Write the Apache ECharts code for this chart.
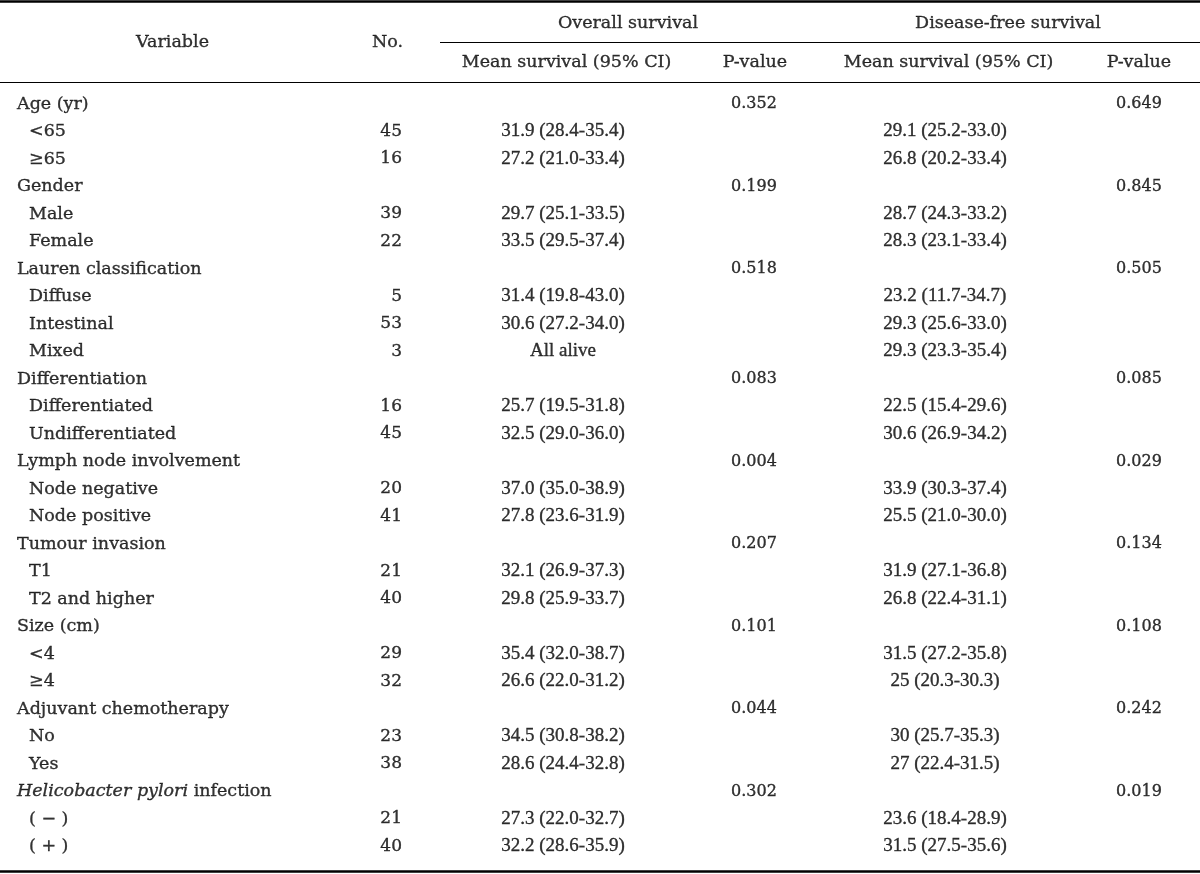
<!DOCTYPE html>
<html><head><meta charset="utf-8">
<script src="https://cdn.jsdelivr.net/npm/echarts@6/dist/echarts.min.js"></script>
<style>html,body{margin:0;padding:0;background:#fff}#c{width:1200px;height:874px}</style>
</head><body><div id="c"></div>
<script>
// ---- table content ----
const stubHeaders = ['Variable', 'No.'];
const groupHeaders = ['Overall survival', 'Disease-free survival'];
const subHeaders = ['Mean survival (95% CI)', 'P-value', 'Mean survival (95% CI)', 'P-value'];
const rowLabels = ['Age (yr)','<65','≥65','Gender','Male','Female','Lauren classification','Diffuse','Intestinal','Mixed','Differentiation','Differentiated','Undifferentiated','Lymph node involvement','Node negative','Node positive','Tumour invasion','T1','T2 and higher','Size (cm)','<4','≥4','Adjuvant chemotherapy','No','Yes','Helicobacter pylori infection','( − )','( + )'];
const rowLevel = [0,1,1,0,1,1,0,1,1,1,0,1,1,0,1,1,0,1,1,0,1,1,0,1,1,0,1,1];
const patientNo = ['','45','16','','39','22','','5','53','3','','16','45','','20','41','','21','40','','29','32','','23','38','','21','40'];
const osMean = ['','31.9 (28.4-35.4)','27.2 (21.0-33.4)','','29.7 (25.1-33.5)','33.5 (29.5-37.4)','','31.4 (19.8-43.0)','30.6 (27.2-34.0)','All alive','','25.7 (19.5-31.8)','32.5 (29.0-36.0)','','37.0 (35.0-38.9)','27.8 (23.6-31.9)','','32.1 (26.9-37.3)','29.8 (25.9-33.7)','','35.4 (32.0-38.7)','26.6 (22.0-31.2)','','34.5 (30.8-38.2)','28.6 (24.4-32.8)','','27.3 (22.0-32.7)','32.2 (28.6-35.9)'];
const osP = ['0.352','','','0.199','','','0.518','','','','0.083','','','0.004','','','0.207','','','0.101','','','0.044','','','0.302','',''];
const dfsMean = ['','29.1 (25.2-33.0)','26.8 (20.2-33.4)','','28.7 (24.3-33.2)','28.3 (23.1-33.4)','','23.2 (11.7-34.7)','29.3 (25.6-33.0)','29.3 (23.3-35.4)','','22.5 (15.4-29.6)','30.6 (26.9-34.2)','','33.9 (30.3-37.4)','25.5 (21.0-30.0)','','31.9 (27.1-36.8)','26.8 (22.4-31.1)','','31.5 (27.2-35.8)','25 (20.3-30.3)','','30 (25.7-35.3)','27 (22.4-31.5)','','23.6 (18.4-28.9)','31.5 (27.5-35.6)'];
const dfsP = ['0.649','','','0.845','','','0.505','','','','0.085','','','0.029','','','0.134','','','0.108','','','0.242','','','0.019','',''];
const italicPart = 'Helicobacter pylori';

// ---- layout (x positions on a 0..1200 value axis) ----
const layout = {
  varX: 17, indent: 12,
  noX: 402, osMeanX: 563, osPX: 754, dfsMeanX: 945, dfsPX: 1139,
  hVarX: 172.5, hNoX: 387.5, hOsX: 628, hDfsX: 1008,
  hOsMeanX: 566.5, hOsPX: 755, hDfsMeanX: 948.5, hDfsPX: 1139,
  groupRuleFrom: 440, groupRuleTo: 1200
};
const TEXT = '#000';
const SERIF = 'DejaVu Serif';

function textSeries(xAxisIndex, yAxisIndex, items, labelOpt, extra) {
  return Object.assign({
    type: 'scatter', xAxisIndex, yAxisIndex, symbolSize: 1, silent: true, animation: false,
    itemStyle: { color: 'rgba(255,255,255,0)' },
    data: items.map(d => ({ value: [d.x, d.y], t: d.t })),
    label: Object.assign({
      show: true, position: 'inside', verticalAlign: 'middle', color: TEXT,
      textBorderWidth: 0.35, textBorderColor: '#000',
      fontFamily: SERIF, fontSize: 17.5,
      formatter: p => p.data.t
    }, labelOpt)
  }, extra || {});
}
function colItems(arr, x) {
  const out = [];
  arr.forEach((v, i) => { if (v !== '' && v != null) out.push({ x, y: i, t: String(v) }); });
  return out;
}

const labelItems = rowLabels.map((s, i) => ({
  x: layout.varX + rowLevel[i] * layout.indent, y: i,
  t: s.startsWith(italicPart) ? '{i|' + italicPart + '}' + s.slice(italicPart.length) : s
}));

const option = {
  backgroundColor: '#fff',
  animation: false,
  grid: [
    { left: 0, right: 0, top: 1.5, height: 81 },
    { left: 0, right: 0, top: 90.25, height: 781 }
  ],
  xAxis: [
    { gridIndex: 0, type: 'value', min: 0, max: 1200, position: 'top',
      axisLine: { show: true, onZero: false, lineStyle: { color: '#000', width: 2.5 } },
      axisTick: { show: false }, axisLabel: { show: false }, splitLine: { show: false } },
    { gridIndex: 0, type: 'value', min: 0, max: 1200, position: 'bottom',
      axisLine: { show: true, onZero: false, lineStyle: { color: '#000', width: 1.2 } },
      axisTick: { show: false }, axisLabel: { show: false }, splitLine: { show: false } },
    { gridIndex: 1, type: 'value', min: 0, max: 1200, position: 'bottom',
      axisLine: { show: true, onZero: false, lineStyle: { color: '#000', width: 2.5 } },
      axisTick: { show: false }, axisLabel: { show: false }, splitLine: { show: false } }
  ],
  yAxis: [
    { gridIndex: 0, type: 'value', min: 0, max: 2, inverse: true, show: false },
    { gridIndex: 1, type: 'value', min: -0.5, max: 27.9, inverse: true, show: false }
  ],
  series: [
    // header
    textSeries(0, 0, [
      { x: layout.hVarX, y: 1, t: stubHeaders[0] },
      { x: layout.hNoX, y: 1, t: stubHeaders[1] },
      { x: layout.hOsX, y: 0.55, t: groupHeaders[0] },
      { x: layout.hDfsX, y: 0.55, t: groupHeaders[1] }
    ], { align: 'center' }, {
      markLine: {
        silent: true, symbol: ['none', 'none'], animation: false,
        label: { show: false },
        lineStyle: { color: '#000', width: 1.2, type: 'solid' },
        data: [[{ coord: [layout.groupRuleFrom, 1] }, { coord: [layout.groupRuleTo, 1] }]]
      }
    }),
    textSeries(0, 0, [
      { x: layout.hOsMeanX, y: 1.5, t: subHeaders[0] },
      { x: layout.hOsPX, y: 1.5, t: subHeaders[1] },
      { x: layout.hDfsMeanX, y: 1.5, t: subHeaders[2] },
      { x: layout.hDfsPX, y: 1.5, t: subHeaders[3] }
    ], { align: 'center' }),
    // body
    textSeries(2, 1, labelItems, { align: 'left', rich: { i: { fontStyle: 'italic', fontFamily: SERIF, fontSize: 17.5, color: TEXT, textBorderWidth: 0.35, textBorderColor: '#000' } } }),
    textSeries(2, 1, colItems(patientNo, layout.noX), { align: 'right', fontSize: 17 }),
    textSeries(2, 1, colItems(osMean, layout.osMeanX), { align: 'center', fontFamily: 'Liberation Serif', fontSize: 19 }),
    textSeries(2, 1, colItems(osP, layout.osPX), { align: 'center', fontSize: 16 }),
    textSeries(2, 1, colItems(dfsMean, layout.dfsMeanX), { align: 'center', fontFamily: 'Liberation Serif', fontSize: 19 }),
    textSeries(2, 1, colItems(dfsP, layout.dfsPX), { align: 'center', fontSize: 16 })
  ]
};
const chart = echarts.init(document.getElementById('c'), null, { renderer: 'canvas' });
chart.setOption(option);
</script>
</body></html>
